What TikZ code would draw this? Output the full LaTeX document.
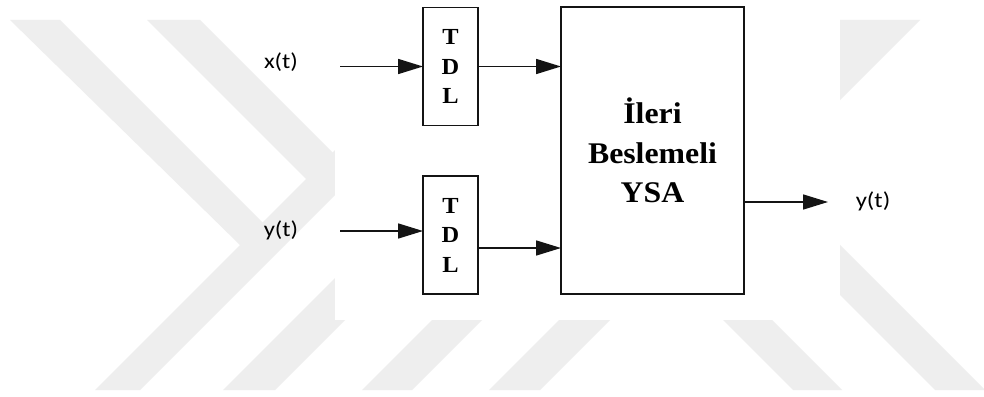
\documentclass[tikz,border=0pt]{standalone}
\usepackage{fontspec}
\setmainfont{Liberation Serif}
\newfontfamily\blockfont[FakeStretch=1.06]{Liberation Serif}
\newfontfamily\lblfont[FakeStretch=1.15]{Carlito}
\usetikzlibrary{arrows.meta}
\definecolor{wm}{RGB}{238,238,238}
\definecolor{ink}{RGB}{20,20,20}

\begin{document}
\begin{tikzpicture}[x=1pt,y=-1pt,
  blockbox/.style={draw=ink, line width=1.6pt, fill=white, inner sep=0pt, outer sep=0pt},
  tdlbox/.style={blockbox, minimum width=55pt, minimum height=118pt, align=center,
                 font=\blockfont\bfseries\fontsize{23}{29.5}\selectfont},
  annbox/.style={blockbox, minimum width=183pt, minimum height=287pt, align=center,
                 font=\blockfont\bfseries\fontsize{30}{39.5}\selectfont},
  sig/.style={font=\lblfont\fontsize{21.5}{25}\selectfont, anchor=base, inner sep=0pt},
  flow/.style={draw=ink, line width=1.6pt, -{Triangle[length=25pt,width=15pt]}},
  band/.style={fill=wm, draw=none}
]
% page and background
\path[use as bounding box, fill=white] (0,0) rectangle (984,396);

% light diagonal bands in the background
\fill[band] (10,20) -- (60,20) -- (285,245) -- (240,245) -- cycle;
\fill[band] (95,390) -- (140,390) -- (430,100) -- (385,100) -- cycle;
\fill[band] (147,20) -- (200,20) -- (355,175) -- (306,179) -- cycle;
\fill[band] (223,390) -- (275,390) -- (425,240) -- (373,240) -- cycle;
\fill[band] (362,390) -- (412,390) -- (502,300) -- (452,300) -- cycle;
\fill[band] (489,390) -- (540,390) -- (620,310) -- (569,310) -- cycle;
\fill[band] (793,390) -- (842,390) -- (762,310) -- (713,310) -- cycle;
\fill[band] (935,390) -- (984,390) -- (984,389) -- (835,240) -- (785,240) -- cycle;
\fill[band] (830,20) -- (920,20) -- (820,120) -- (730,120) -- cycle;
\fill[white] (335,0) rectangle (840,320);

% blocks
\node[tdlbox] (tdl1) at (450.5,66.5) {T\\D\\L};
\node[tdlbox] (tdl2) at (450.5,235) {T\\D\\L};
\node[annbox] (ann) at (652.5,150.5) {İleri\\Beslemeli\\YSA};

% signal labels
\node[sig] (lx)  at (281,68)  {x(t)};
\node[sig] (ly1) at (281,236) {y(t)};
\node[sig] (ly2) at (873,207) {y(t)};

% connectors
\coordinate (xin)   at (340,66.5);
\coordinate (yin)   at (340,231);
\coordinate (yout)  at (828,202);
\coordinate (t2out) at ([yshift=-13pt]tdl2.east);

\draw[flow] (xin) -- (xin -| tdl1.west);
\draw[flow] (tdl1.east) -- (tdl1.east -| ann.west);
\draw[flow] (yin) -- (yin -| tdl2.west);
\draw[flow] (t2out) -- (t2out -| ann.west);
\draw[flow] (ann.east |- yout) -- (yout);
\end{tikzpicture}
\end{document}
